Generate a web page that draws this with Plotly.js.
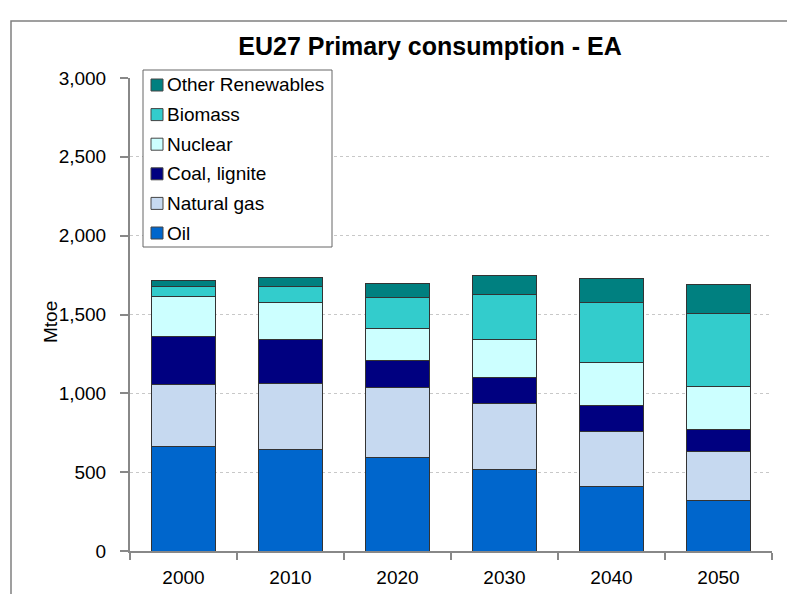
<!DOCTYPE html>
<html>
<head>
<meta charset="utf-8">
<script src="https://cdn.plot.ly/plotly-3.0.1.min.js"></script>
<style>html,body{margin:0;padding:0;background:#fff;}#chart{width:787px;height:594px;}</style>
</head>
<body>
<div id="chart"></div>
<script>
const years = ["2000", "2010", "2020", "2030", "2040", "2050"];
const oil = [663, 641, 593, 517, 409, 323];
const naturalGas = [390, 424, 443, 418, 352, 305];
const coalLignite = [308, 277, 171, 164, 161, 142];
const nuclear = [251, 234, 206, 241, 272, 272];
const biomass = [65, 99, 193, 285, 382, 466];
const otherRenewables = [38, 57, 88, 124, 150, 184];

const seriesNames = ["Oil", "Natural gas", "Coal, lignite", "Nuclear", "Biomass", "Other Renewables"];
const seriesValues = [oil, naturalGas, coalLignite, nuclear, biomass, otherRenewables];
const seriesColors = ["#0066CC", "#C6D9F0", "#000080", "#CCFFFF", "#33CCCC", "#008080"];
const yTickVals = [0, 500, 1000, 1500, 2000, 2500, 3000];
const yTickText = ["0", "500", "1,000", "1,500", "2,000", "2,500", "3,000"];

const F = "'Liberation Sans', Arial, sans-serif";
const W = 787, H = 594;
const M = {l: 130, r: 15, t: 78, b: 43};
const PW = W - M.l - M.r, PH = H - M.t - M.b;
const px2x = p => (p - M.l) / PW;
const py2y = p => (H - M.b - p) / PH;

const traces = seriesNames.map((name, i) => ({
  type: "bar",
  name: name,
  x: years,
  y: seriesValues[i],
  marker: {color: seriesColors[i], line: {color: "#333333", width: 1}},
  hoverinfo: "skip",
  showlegend: false
}));

// custom legend (top entry = last series)
const legShapes = [{
  type: "rect", xref: "paper", yref: "paper",
  x0: px2x(143), x1: px2x(332), y0: py2y(247), y1: py2y(70),
  line: {color: "#666666", width: 1}, fillcolor: "#ffffff", layer: "above"
}];
const legAnn = [];
for (let k = 0; k < seriesNames.length; k++) {
  const i = seriesNames.length - 1 - k;
  const cy = 85 + 29.6 * k;
  legShapes.push({
    type: "rect", xref: "paper", yref: "paper",
    x0: px2x(151), x1: px2x(163), y0: py2y(cy + 6), y1: py2y(cy - 6),
    line: {color: "#444444", width: 1}, fillcolor: seriesColors[i], layer: "above"
  });
  legAnn.push({
    text: seriesNames[i], showarrow: false, xref: "paper", yref: "paper",
    x: px2x(165), y: py2y(cy), xanchor: "left", yanchor: "middle",
    font: {family: F, size: 19, color: "#000"}
  });
}

const layout = {
  width: W, height: H,
  margin: M,
  paper_bgcolor: "#ffffff", plot_bgcolor: "#ffffff",
  barmode: "stack",
  bargap: 0.41,
  showlegend: false,
  font: {family: F, size: 19, color: "#000"},
  title: {
    text: "<b>EU27 Primary consumption - EA</b>",
    font: {family: F, size: 25, color: "#000"},
    xref: "container", x: 430 / W, xanchor: "center",
    yref: "container", y: 1 - 46 / H, yanchor: "middle"
  },
  xaxis: {
    type: "category",
    showgrid: false,
    showline: true, linecolor: "#888888", linewidth: 2,
    ticks: "outside", tickson: "boundaries", ticklen: 7, tickcolor: "#888888", tickwidth: 2,
    ticklabelstandoff: 8,
    tickfont: {family: F, size: 19, color: "#000"},
    zeroline: false, fixedrange: true
  },
  yaxis: {
    range: [0, 3000],
    tickvals: yTickVals,
    ticktext: yTickText,
    showgrid: true, gridcolor: "#c8c8c8", griddash: "dot", gridwidth: 1,
    showline: true, linecolor: "#888888", linewidth: 2,
    ticks: "outside", ticklen: 8, tickcolor: "#888888", tickwidth: 2,
    ticklabelstandoff: 10,
    tickfont: {family: F, size: 19, color: "#000"},
    zeroline: false, fixedrange: true
  },
  shapes: [{
    type: "rect", xref: "paper", yref: "paper",
    x0: px2x(11), x1: px2x(W + 20),
    y0: py2y(H + 20), y1: py2y(21),
    line: {color: "#808080", width: 1.5}, fillcolor: "rgba(0,0,0,0)", layer: "below"
  }].concat(legShapes),
  annotations: [
    {
      text: "Mtoe", textangle: -90, showarrow: false,
      xref: "paper", yref: "paper",
      x: px2x(50), y: py2y(322),
      xanchor: "center", yanchor: "middle",
      font: {family: F, size: 19, color: "#000"}
    },
    {
      text: "<i>the part of total demand by renewable energy sources in the EA plan</i>",
      showarrow: false,
      xref: "paper", yref: "paper",
      x: px2x(105), y: py2y(-12),
      xanchor: "left", yanchor: "bottom",
      font: {family: "'Liberation Serif', 'Times New Roman', serif", size: 24, color: "#000"}
    }
  ].concat(legAnn)
};

Plotly.newPlot("chart", traces, layout, {displayModeBar: false, staticPlot: true});
</script>
</body>
</html>
